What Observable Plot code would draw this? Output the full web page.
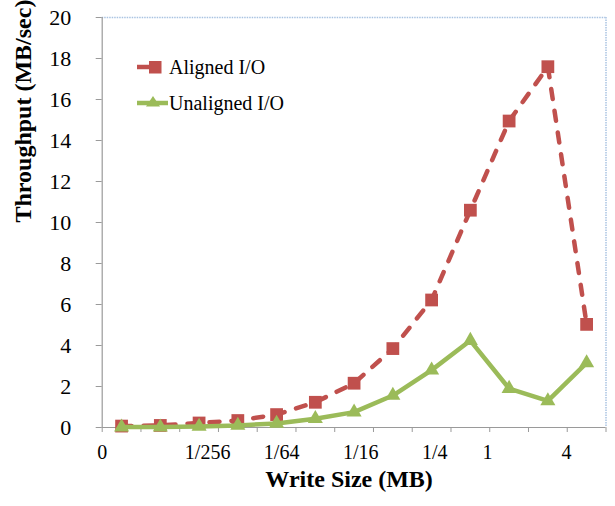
<!DOCTYPE html>
<html><head><meta charset="utf-8">
<script src="https://cdn.jsdelivr.net/npm/d3@7"></script>
<script src="https://cdn.jsdelivr.net/npm/@observablehq/plot@0.6"></script>
<style>
body{margin:0;background:#fff;}
#chart{position:relative;width:615px;height:506px;font-family:'Liberation Serif';}
#chart svg.plot{position:absolute;left:0;top:0;}
#legend{position:absolute;left:137px;top:49px;font-size:20px;color:#000;font-family:'Liberation Serif';}
.row{display:flex;align-items:center;height:36px;}
.row svg{display:block;}
.row span{font-family:'Liberation Serif';}
</style></head>
<body><div id="chart"><div id="legend"></div></div>
<script>
// x positions: one per write size step (categories by index)
const pointIndex = [0,1,2,3,4,5,6,7,8,9,10,11,12];
const aligned   = [0.07,0.10,0.22,0.34,0.63,1.23,2.16,3.85,6.22,10.6,14.95,17.6,5.03];
const unaligned = [0.02,0.02,0.05,0.10,0.20,0.43,0.75,1.56,2.80,4.24,1.90,1.30,3.15];
const tickLabels = ["0","1/256","1/64","1/16","1/4","1","4"];
const tickPos    = [-0.5,2.22,4.13,6.17,8.08,9.44,11.48];
const yTicks = [0,2,4,6,8,10,12,14,16,18,20];
const seriesNames = ["Aligned I/O","Unaligned I/O"];

const red = "#c0504d", green = "#9bbb59", grid = "#9a9a9a", blue = "#a9c3e2";
const FF = "Liberation Serif";

const A = pointIndex.map((x,i)=>({x, y: aligned[i]}));
const U = pointIndex.map((x,i)=>({x, y: unaligned[i]}));
const labelMap = new Map(tickPos.map((p,i)=>[p, tickLabels[i]]));
const boundaries = d3.range(-0.5, 13, 1);

const plot = Plot.plot({
  width: 615, height: 506,
  marginLeft: 101.7, marginRight: 9.5, marginTop: 17, marginBottom: 79,
  style: "font-family: 'Liberation Serif'; background: transparent;",
  x: {domain: [-0.5, 12.5]},
  y: {domain: [0, 20]},
  marks: [
    Plot.ruleY([20], {stroke: blue, strokeWidth: 1.5, strokeDasharray: "1.5,1"}),
    Plot.ruleX([12.5], {stroke: blue, strokeWidth: 1.5, strokeDasharray: "1.5,1"}),
    Plot.ruleX([-0.5], {stroke: grid, strokeWidth: 1.2}),
    Plot.ruleY([0], {stroke: grid, strokeWidth: 1.2}),
    Plot.axisY({ticks: yTicks, tickSize: 6, tickPadding: 25, fontSize: 22, fontFamily: FF, stroke: grid, fill: "#000", label: null}),
    Plot.axisX({ticks: boundaries, tickSize: 5, tickFormat: () => "", stroke: grid, label: null}),
    Plot.axisX({ticks: tickPos, tickSize: 0, tickPadding: 17, fontSize: 20, fontFamily: FF, fill: "#000", tickFormat: d => labelMap.get(d), label: null}),
    Plot.text(["Throughput (MB/sec)"], {frameAnchor: "left", dx: -79, rotate: -90, fontSize: 24, fontFamily: FF, fontWeight: "bold", fill: "#000"}),
    Plot.text(["Write Size (MB)"], {frameAnchor: "bottom", dx: -5, dy: 59, fontSize: 24, fontFamily: FF, fontWeight: "bold", fill: "#000"}),
    Plot.line(A, {x: "x", y: "y", stroke: red, strokeWidth: 4.5, strokeDasharray: "10,12", strokeLinecap: "round"}),
    Plot.dot(A, {x: "x", y: "y", symbol: "square", r: 7.2, fill: red, stroke: "none"}),
    Plot.line(U, {x: "x", y: "y", stroke: green, strokeWidth: 4.5}),
    Plot.dot(U, {x: "x", y: "y", symbol: "triangle", r: 5.6, fill: green, stroke: "none"})
  ]
});
plot.classList.add("plot");
const chart = document.getElementById("chart");
chart.insertBefore(plot, chart.firstChild);

const legend = document.getElementById("legend");
const swatches = [
  `<svg width="32" height="20"><line x1="0" y1="10" x2="15" y2="10" stroke="${red}" stroke-width="4.5"/><rect x="12" y="4" width="12.5" height="12.5" fill="${red}"/></svg>`,
  `<svg width="32" height="20"><line x1="0" y1="10" x2="31" y2="10" stroke="${green}" stroke-width="4.5"/><path d="M16,3 L23,13.5 L9,13.5 Z" fill="${green}"/></svg>`
];
seriesNames.forEach((name,i)=>{
  const row = document.createElement("div");
  row.className = "row";
  row.innerHTML = swatches[i] + `<span>${name}</span>`;
  legend.appendChild(row);
});
</script>
</body></html>
